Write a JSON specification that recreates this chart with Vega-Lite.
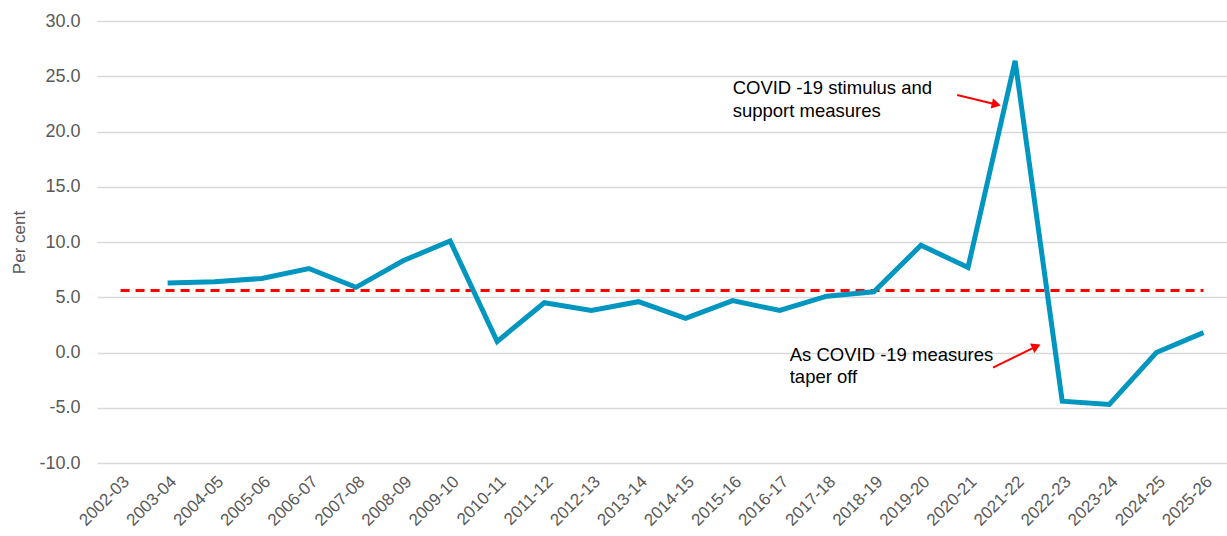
{
  "$schema": "https://vega.github.io/schema/vega-lite/v6.json",
  "autosize": "none",
  "width": 1130,
  "height": 442,
  "padding": {"left": 97, "top": 21, "right": 0, "bottom": 73},
  "background": "white",
  "config": {
    "view": {"stroke": null},
    "font": "Liberation Sans"
  },
  "datasets": {
    "series": [
      {"year": "2002-03", "value": null, "avg": 5.6},
      {"year": "2003-04", "value": 6.3, "avg": 5.6},
      {"year": "2004-05", "value": 6.4, "avg": 5.6},
      {"year": "2005-06", "value": 6.7, "avg": 5.6},
      {"year": "2006-07", "value": 7.6, "avg": 5.6},
      {"year": "2007-08", "value": 5.9, "avg": 5.6},
      {"year": "2008-09", "value": 8.3, "avg": 5.6},
      {"year": "2009-10", "value": 10.1, "avg": 5.6},
      {"year": "2010-11", "value": 1.0, "avg": 5.6},
      {"year": "2011-12", "value": 4.5, "avg": 5.6},
      {"year": "2012-13", "value": 3.8, "avg": 5.6},
      {"year": "2013-14", "value": 4.6, "avg": 5.6},
      {"year": "2014-15", "value": 3.1, "avg": 5.6},
      {"year": "2015-16", "value": 4.7, "avg": 5.6},
      {"year": "2016-17", "value": 3.8, "avg": 5.6},
      {"year": "2017-18", "value": 5.1, "avg": 5.6},
      {"year": "2018-19", "value": 5.5, "avg": 5.6},
      {"year": "2019-20", "value": 9.7, "avg": 5.6},
      {"year": "2020-21", "value": 7.7, "avg": 5.6},
      {"year": "2021-22", "value": 26.4, "avg": 5.6},
      {"year": "2022-23", "value": -4.4, "avg": 5.6},
      {"year": "2023-24", "value": -4.7, "avg": 5.6},
      {"year": "2024-25", "value": 0.0, "avg": 5.6},
      {"year": "2025-26", "value": 1.8, "avg": 5.6}
    ],
    "notes": [
      {"year": "2015-16", "y": 23.9, "label": "COVID -19 stimulus and"},
      {"year": "2015-16", "y": 21.9, "label": "support measures"}
    ],
    "notes2": [
      {"year": "2016-17", "y": -0.2, "label": "As COVID -19 measures"},
      {"year": "2016-17", "y": -2.2, "label": "taper off"}
    ],
    "arrows": [
      {"x0": 17.77, "y0": 23.3, "x1": 18.6, "y1": 22.45, "angle": 13},
      {"x0": 18.53, "y0": -1.36, "x1": 19.45, "y1": 0.55, "angle": -25}
    ]
  },
  "layer": [
    {
      "data": {"name": "series"},
      "layer": [
        {
          "mark": {"type": "line", "color": "#ff0000", "strokeWidth": 3, "strokeDash": [9, 6]},
          "encoding": {
            "x": {"field": "year", "type": "ordinal"},
            "y": {"field": "avg", "type": "quantitative"}
          }
        },
        {
          "transform": [{"filter": "datum.value != null"}],
          "mark": {"type": "line", "color": "#0096c0", "strokeWidth": 5, "strokeJoin": "miter"},
          "encoding": {
            "x": {"field": "year", "type": "ordinal"},
            "y": {"field": "value", "type": "quantitative"}
          }
        }
      ],
      "encoding": {
        "x": {
          "field": "year",
          "type": "ordinal",
          "scale": {"type": "point", "padding": 0.5},
          "axis": {
            "title": null,
            "labelAngle": -45,
            "labelFontSize": 17,
            "labelColor": "#595959",
            "domain": false,
            "ticks": false,
            "labelPadding": 10
          }
        },
        "y": {
          "type": "quantitative",
          "scale": {"domain": [-10, 30], "nice": false, "zero": false},
          "axis": {
            "title": "Per cent",
            "titleFontSize": 17,
            "titleFontWeight": "normal",
            "titleColor": "#595959",
            "titlePadding": 10,
            "values": [-10, -5, 0, 5, 10, 15, 20, 25, 30],
            "labelExpr": "replace(format(datum.value, '.1f'), '\u2212', '-')",
            "labelFontSize": 18,
            "labelColor": "#595959",
            "labelPadding": 17,
            "domain": false,
            "ticks": false,
            "grid": true,
            "gridColor": "#d9d9d9",
            "gridWidth": 1.5
          }
        }
      }
    },
    {
      "data": {"name": "notes"},
      "mark": {"type": "text", "align": "left", "baseline": "middle", "fontSize": 18.5, "color": "#000000"},
      "encoding": {
        "x": {"field": "year", "type": "ordinal", "axis": null, "scale": {"type": "point", "padding": 0.5, "domain": ["2002-03","2003-04","2004-05","2005-06","2006-07","2007-08","2008-09","2009-10","2010-11","2011-12","2012-13","2013-14","2014-15","2015-16","2016-17","2017-18","2018-19","2019-20","2020-21","2021-22","2022-23","2023-24","2024-25","2025-26"]}},
        "y": {"field": "y", "type": "quantitative"},
        "text": {"field": "label"}
      }
    },
    {
      "data": {"name": "notes2"},
      "mark": {"type": "text", "align": "left", "baseline": "middle", "fontSize": 18.5, "color": "#000000", "dx": 10},
      "encoding": {
        "x": {"field": "year", "type": "ordinal", "axis": null, "scale": {"type": "point", "padding": 0.5, "domain": ["2002-03","2003-04","2004-05","2005-06","2006-07","2007-08","2008-09","2009-10","2010-11","2011-12","2012-13","2013-14","2014-15","2015-16","2016-17","2017-18","2018-19","2019-20","2020-21","2021-22","2022-23","2023-24","2024-25","2025-26"]}},
        "y": {"field": "y", "type": "quantitative"},
        "text": {"field": "label"}
      }
    },
    {
      "data": {"name": "arrows"},
      "layer": [
        {
          "mark": {"type": "rule", "color": "#ff0000", "strokeWidth": 2},
          "encoding": {
            "x": {"field": "x0", "type": "quantitative", "scale": {"domain": [-0.5, 23.5], "nice": false, "zero": false}, "axis": null},
            "x2": {"field": "x1"},
            "y": {"field": "y0", "type": "quantitative"},
            "y2": {"field": "y1"}
          }
        },
        {
          "mark": {"type": "point", "shape": "triangle-right", "filled": true, "color": "#ff0000", "opacity": 1, "size": 110},
          "encoding": {
            "x": {"field": "x1", "type": "quantitative", "scale": {"domain": [-0.5, 23.5], "nice": false, "zero": false}, "axis": null},
            "y": {"field": "y1", "type": "quantitative"},
            "angle": {"field": "angle", "type": "quantitative", "scale": null}
          }
        }
      ]
    }
  ],
  "resolve": {"scale": {"x": "independent"}}
}
